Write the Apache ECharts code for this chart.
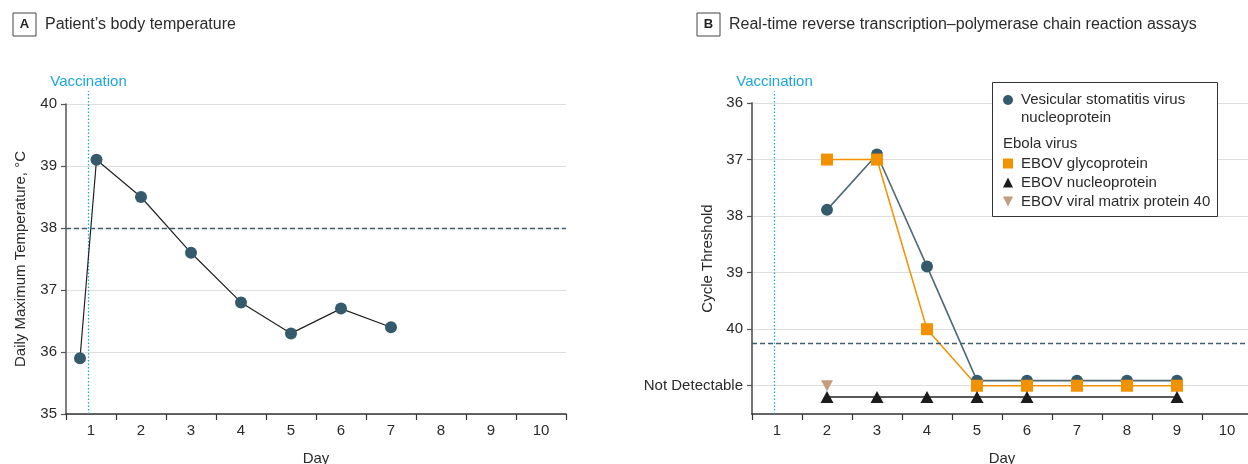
<!DOCTYPE html>
<html>
<head>
<meta charset="utf-8">
<script src="https://cdn.jsdelivr.net/npm/echarts@6/dist/echarts.min.js"></script>
<style>
html,body{margin:0;padding:0;background:#fff;}
#chart{width:1248px;height:464px;}
</style>
</head>
<body>
<div id="chart"></div>
<script>
// ---- Data ----
const dayTicks = ['1','2','3','4','5','6','7','8','9','10'];
const vaccinationDay = 0.95;

// Panel A
const daysA = [0.78, 1.11, 2, 3, 4, 5, 6, 7];
const tempA = [35.9, 39.1, 38.5, 37.6, 36.8, 36.3, 36.7, 36.4];
const feverThreshold = 38;

// Panel B
const notDetectable = 41;
const ctTicks = [36, 37, 38, 39, 40, 41];
const daysB = [2, 3, 4, 5, 6, 7, 8, 9];
const vsvCt = [37.89, 36.91, 38.89, 40.91, 40.91, 40.91, 40.91, 40.91];
const gpCt = [37, 37, 40, 41, 41, 41, 41, 41];
const npDays = [2, 3, 4, 5, 6, 9];
const npCt = [41.2, 41.2, 41.2, 41.2, 41.2, 41.2];
const vp40Days = [2];
const vp40Ct = [41];
const ctCutoff = 40.25;

const FONT = 'Liberation Sans';
const TXT = '#2b2b2b';
const TEAL = '#355a6b';
const ORANGE = '#f39200';
const BLACK = '#1c1c1c';
const TAN = '#c39d7c';
const BLUE = '#1ba5e0';

const zip = (xs, ys) => xs.map((x, i) => [x, ys[i]]);

function catAxis(grid) {
  return {
    type: 'category', gridIndex: grid, data: dayTicks, boundaryGap: true,
    name: 'Day', nameLocation: 'middle', nameGap: 37, nameMoveOverlap: false,
    nameTextStyle: {fontFamily: FONT, fontSize: 15, color: TXT},
    axisLine: {lineStyle: {color: '#333', width: 1.5}},
    axisTick: {show: true, length: 6, alignWithLabel: false, lineStyle: {color: '#333', width: 1.2}},
    axisLabel: {fontFamily: FONT, fontSize: 15, color: TXT, margin: 9, interval: 0},
    splitLine: {show: false}
  };
}
function valXAxis(grid) {
  return {type: 'value', gridIndex: grid, min: 0.5, max: 10.5, show: false, splitLine: {show: false}};
}

const titleRich = {
  box: {fontFamily: FONT, fontWeight: 'bold', fontSize: 13, color: '#222', borderColor: '#444', borderWidth: 1, width: 23, height: 23, lineHeight: 23, align: 'center'},
  t: {fontFamily: FONT, fontWeight: 'normal', fontSize: 16, color: TXT, padding: [0, 0, 0, 9]}
};

const option = {
  backgroundColor: '#fff',
  animation: false,
  textStyle: {fontFamily: FONT},
  title: [
    {left: 13, top: 13, padding: 0, text: '{box|A}{t|Patient’s body temperature}', textStyle: {fontWeight: 'normal', rich: titleRich}},
    {left: 697, top: 13, padding: 0, text: '{box|B}{t|Real-time reverse transcription–polymerase chain reaction assays}', textStyle: {fontWeight: 'normal', rich: titleRich}}
  ],
  grid: [
    {left: 66, top: 104, width: 500, height: 310, outerBoundsMode: 'none', containLabel: false},
    {left: 752, top: 103, width: 500, height: 311, outerBoundsMode: 'none', containLabel: false}
  ],
  xAxis: [catAxis(0), valXAxis(0), catAxis(1), valXAxis(1)],
  yAxis: [
    {
      type: 'value', gridIndex: 0, min: 35, max: 40, interval: 1,
      name: 'Daily Maximum Temperature, °C', nameLocation: 'middle', nameGap: 38, nameMoveOverlap: false,
      nameTextStyle: {fontFamily: FONT, fontSize: 15, color: TXT},
      axisLine: {show: true, lineStyle: {color: '#555', width: 1.5}},
      axisTick: {show: true, length: 5, lineStyle: {color: '#555', width: 1.2}},
      axisLabel: {fontFamily: FONT, fontSize: 15, color: TXT, margin: 9},
      splitLine: {show: true, lineStyle: {color: '#dedede', width: 1}}
    },
    {
      type: 'value', gridIndex: 1, min: 36, max: 41.5, interval: 1, inverse: true,
      name: 'Cycle Threshold', nameLocation: 'middle', nameGap: 37, nameMoveOverlap: false,
      nameTextStyle: {fontFamily: FONT, fontSize: 15, color: TXT},
      axisLine: {show: true, lineStyle: {color: '#666', width: 1.8}},
      axisTick: {show: true, length: 5, customValues: ctTicks, lineStyle: {color: '#555', width: 1.2}},
      axisLabel: {
        fontFamily: FONT, fontSize: 15, color: TXT, margin: 9, customValues: ctTicks,
        formatter: v => v === notDetectable ? 'Not Detectable' : String(v)
      },
      splitLine: {show: true, lineStyle: {color: '#dedede', width: 1}}
    }
  ],
  legend: [
    {
      orient: 'vertical', left: 1003, top: 73, padding: 0, z: 10,
      selectedMode: false, itemWidth: 10, itemHeight: 10,
      data: [{name: 'Vesicular stomatitis virus\nnucleoprotein', icon: 'circle'}],
      formatter: n => ' \n' + n,
      textStyle: {fontFamily: FONT, fontSize: 15, color: TXT, lineHeight: 18, padding: [0, 0, 0, 3]}
    },
    {
      orient: 'vertical', left: 1003, top: 154, padding: 0, z: 10, itemGap: 0,
      selectedMode: false, itemWidth: 10, itemHeight: 10,
      data: [
        {name: 'EBOV glycoprotein', icon: 'rect'},
        {name: 'EBOV nucleoprotein', icon: 'triangle'},
        {name: 'EBOV viral matrix protein 40', icon: 'path://M0,0L10,0L5,10Z'}
      ],
      textStyle: {fontFamily: FONT, fontSize: 15, color: TXT, lineHeight: 19, padding: [0, 0, 0, 3]}
    }
  ],
  graphic: [
    {type: 'rect', z: 8, shape: {x: 992.5, y: 82.5, width: 225, height: 134}, style: {fill: '#fff', stroke: '#333', lineWidth: 1}},
    {type: 'text', z: 10, x: 1003, y: 143.5, style: {text: 'Ebola virus', font: '15px "Liberation Sans"', fill: TXT, verticalAlign: 'middle'}}
  ],
  series: [
    // Panel A
    {
      name: 'vaccA', type: 'line', xAxisIndex: 1, yAxisIndex: 0, clip: false, z: 1,
      data: [[vaccinationDay, 35], {value: [vaccinationDay, 40.21], label: {show: true, position: 'top', distance: 1, formatter: 'Vaccination', color: BLUE, fontFamily: FONT, fontSize: 15}}],
      symbol: 'circle', symbolSize: 1, itemStyle: {color: 'rgba(0,0,0,0)'},
      lineStyle: {color: BLUE, width: 1.3, type: [1.5, 2]}, silent: true
    },
    {
      name: 'Temperature', type: 'line', xAxisIndex: 1, yAxisIndex: 0,
      data: zip(daysA, tempA), symbol: 'circle', symbolSize: 12,
      itemStyle: {color: TEAL}, lineStyle: {color: '#222', width: 1.2},
      markLine: {
        silent: true, symbol: 'none', label: {show: false},
        lineStyle: {color: '#3d5f6f', width: 1.3, type: [5, 3]},
        data: [{yAxis: feverThreshold}]
      }
    },
    // Panel B
    {
      name: 'vaccB', type: 'line', xAxisIndex: 3, yAxisIndex: 1, clip: false, z: 1,
      data: [[vaccinationDay, 41.5], {value: [vaccinationDay, 35.79], label: {show: true, position: 'top', distance: 1, formatter: 'Vaccination', color: BLUE, fontFamily: FONT, fontSize: 15}}],
      symbol: 'circle', symbolSize: 1, itemStyle: {color: 'rgba(0,0,0,0)'},
      lineStyle: {color: BLUE, width: 1.3, type: [1.5, 2]}, silent: true
    },
    {
      name: 'Vesicular stomatitis virus\nnucleoprotein', type: 'line', xAxisIndex: 3, yAxisIndex: 1,
      data: zip(daysB, vsvCt), symbol: 'circle', symbolSize: 12,
      itemStyle: {color: TEAL}, lineStyle: {color: '#4d6975', width: 1.6},
      markLine: {
        silent: true, symbol: 'none', label: {show: false},
        lineStyle: {color: '#3d5f6f', width: 1.3, type: [5, 3]},
        data: [{yAxis: ctCutoff}]
      }
    },
    {
      name: 'EBOV glycoprotein', type: 'line', xAxisIndex: 3, yAxisIndex: 1,
      data: zip(daysB, gpCt), symbol: 'rect', symbolSize: 12,
      itemStyle: {color: ORANGE}, lineStyle: {color: ORANGE, width: 1.5}
    },
    {
      name: 'EBOV viral matrix protein 40', type: 'line', xAxisIndex: 3, yAxisIndex: 1,
      data: zip(vp40Days, vp40Ct), symbol: 'triangle', symbolRotate: 180, symbolSize: [12, 11],
      itemStyle: {color: TAN}
    },
    {
      name: 'EBOV nucleoprotein', type: 'line', xAxisIndex: 3, yAxisIndex: 1,
      data: zip(npDays, npCt), symbol: 'triangle', symbolSize: [13, 12],
      itemStyle: {color: BLACK}, lineStyle: {color: '#222', width: 1.5}
    }
  ]
};

const chart = echarts.init(document.getElementById('chart'), null, {renderer: 'canvas'});
chart.setOption(option);
</script>
</body>
</html>
